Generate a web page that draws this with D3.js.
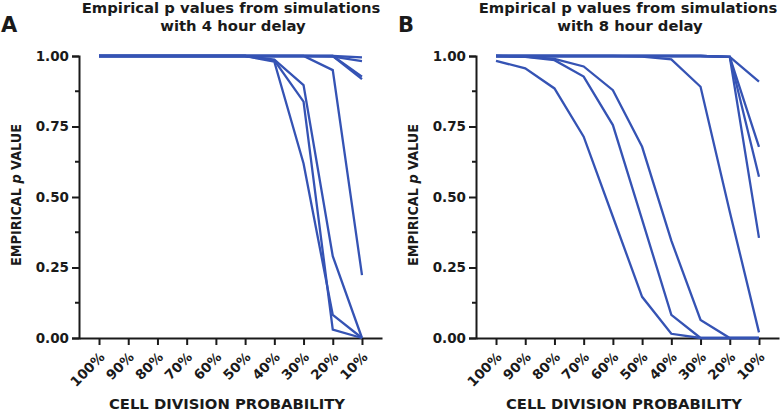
<!DOCTYPE html>
<meta charset="utf-8">
<script src="https://d3js.org/d3.v7.min.js"></script>
<style>
  body { margin: 0; background: #fff; }
  text { font-family: "DejaVu Sans", sans-serif; font-weight: bold; fill: #1a1a1a; }
</style>
<svg id="chart" width="780" height="412"></svg>
<script>

// categories on the x axis
var categories = ["100%", "90%", "80%", "70%", "60%", "50%", "40%", "30%", "20%", "10%"];
var yTicks = [0, 0.25, 0.5, 0.75, 1];

// 4 hour delay, one array per simulation run
var delay4 = [
  [1, 1, 1, 1, 1, 1, 1, 1, 1, 0.995],
  [1, 1, 1, 1, 1, 1, 1, 1, 0.998, 0.982],
  [1, 1, 1, 1, 1, 1, 1, 1, 1, 0.927],
  [1, 1, 1, 1, 1, 1, 1, 1, 1, 0.918],
  [1, 1, 1, 1, 1, 1, 1, 1, 0.95, 0.223],
  [1, 1, 1, 1, 1, 1, 0.987, 0.897, 0.29, 0],
  [1, 1, 1, 1, 1, 1, 0.985, 0.838, 0.03, 0],
  [1, 1, 1, 1, 1, 1, 0.98, 0.619, 0.082, 0]
];

// 8 hour delay
var delay8 = [
  [0.983, 0.956, 0.885, 0.714, 0.43, 0.146, 0.015, 0, 0, 0],
  [1, 0.997, 0.985, 0.927, 0.755, 0.42, 0.082, 0, 0, 0],
  [1, 0.998, 0.99, 0.963, 0.879, 0.678, 0.345, 0.064, 0, 0],
  [1, 1, 1, 1, 1, 0.998, 0.988, 0.891, 0.448, 0.02],
  [1, 1, 1, 1, 1, 1, 1, 1, 0.997, 0.909],
  [1, 1, 1, 1, 1, 1, 1, 1, 0.997, 0.678],
  [1, 1, 1, 1, 1, 1, 1, 1, 0.997, 0.572],
  [1, 1, 1, 1, 1, 1, 1, 1, 0.997, 0.355]
];

var svg = d3.select("#chart");
var lineColor = "#3553b4";

function drawPanel(left, letter, subtitle, series) {
  var width = 303, top = 56, height = 282;
  var g = svg.append("g").attr("transform", "translate(" + left + "," + top + ")");

  var x = d3.scalePoint().domain(categories).range([0, width]).padding(0.685);
  var y = d3.scaleLinear().domain([0, 1]).range([height, 0]);

  // panel letter and title
  svg.append("text").attr("x", left - 78).attr("y", 32)
    .style("font-size", "21px").text(letter);
  svg.append("text").attr("x", left + 152).attr("y", 13)
    .attr("text-anchor", "middle").style("font-size", "14.8px")
    .text("Empirical p values from simulations");
  svg.append("text").attr("x", left + 154).attr("y", 31)
    .attr("text-anchor", "middle").style("font-size", "14.8px")
    .text(subtitle);

  // y axis with minor ticks
  var minor = d3.range(0.125, 1, 0.25);
  g.selectAll(".minor").data(minor).enter().append("line")
    .attr("x1", -4).attr("x2", 0)
    .attr("y1", function(d) { return y(d); })
    .attr("y2", function(d) { return y(d); })
    .attr("stroke", "#1a1a1a").attr("stroke-width", 2);

  var yAxis = g.append("g")
    .call(d3.axisLeft(y).tickValues(yTicks).tickFormat(d3.format(".2f")).tickSize(7).tickPadding(3));
  yAxis.attr("font-family", null);
  yAxis.select(".domain").attr("stroke-width", 2).attr("stroke", "#1a1a1a");
  yAxis.selectAll(".tick line").attr("stroke-width", 2).attr("stroke", "#1a1a1a");
  yAxis.selectAll(".tick text").style("font-size", "13.5px");

  // x axis
  var xAxis = g.append("g").attr("transform", "translate(0," + height + ")")
    .call(d3.axisBottom(x).tickSize(7).tickSizeOuter(0));
  xAxis.attr("font-family", null);
  xAxis.select(".domain").attr("stroke-width", 2).attr("stroke", "#1a1a1a");
  xAxis.selectAll(".tick line").attr("stroke-width", 2).attr("stroke", "#1a1a1a");
  xAxis.selectAll(".tick text")
    .attr("y", 0).attr("dy", 0)
    .attr("transform", "translate(6,20) rotate(-45)")
    .attr("text-anchor", "end")
    .style("font-size", "13.5px");

  // axis titles
  var yt = svg.append("text")
    .attr("transform", "translate(" + (left - 58) + "," + (top + height / 2 - 2) + ") rotate(-90)")
    .attr("text-anchor", "middle")
    .attr("textLength", 142).attr("lengthAdjust", "spacingAndGlyphs")
    .style("font-size", "14px");
  yt.append("tspan").text("EMPIRICAL ");
  yt.append("tspan").style("font-style", "italic").text("p");
  yt.append("tspan").text(" VALUE");

  svg.append("text").attr("x", left + 148).attr("y", 409)
    .attr("text-anchor", "middle").style("font-size", "14.8px")
    .text("CELL DIVISION PROBABILITY");

  // lines
  var line = d3.line()
    .x(function(d, i) { return x(categories[i]); })
    .y(function(d) { return y(d); });

  g.selectAll(".run").data(series).enter().append("path")
    .attr("class", "run")
    .attr("d", line)
    .attr("fill", "none")
    .attr("stroke", lineColor)
    .attr("stroke-width", 2.3);
}

drawPanel(79, "A", "with 4 hour delay", delay4);
drawPanel(476, "B", "with 8 hour delay", delay8);

</script>
